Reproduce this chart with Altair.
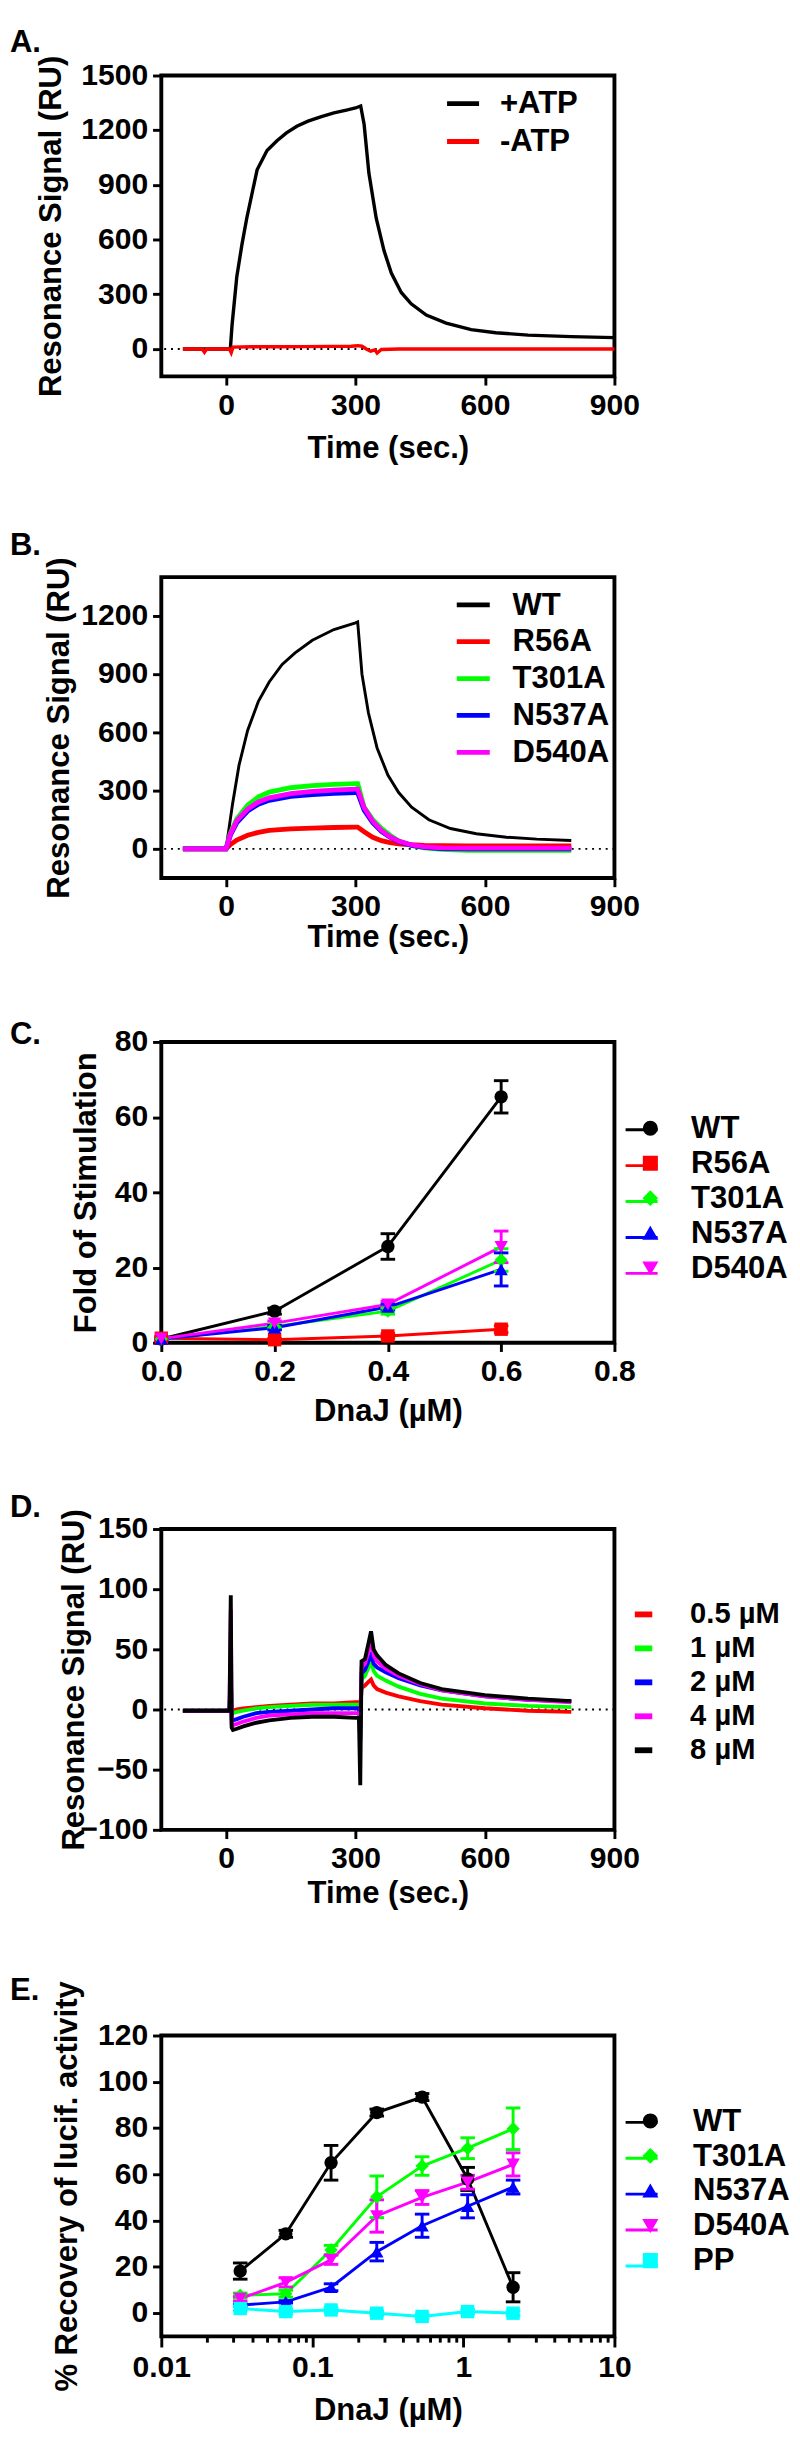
import altair as alt
import pandas as pd

FONT = "Liberation Sans"
W, H = 467, 310

PANEL_LABELS = ["A.", "B.", "C.", "D.", "E."]
LABEL_Y = [-34, -33, -8, -22, -47]

# ---------------- Panel A ----------------
A_SERIES = ["+ATP", "-ATP"]
A_COLORS = ["#000000", "#ff0000"]
A_T_PLUS = [-100, 0, 10, 14, 25, 37, 48, 60, 72, 95, 118, 140, 164, 190, 221, 250, 279,
            300, 312, 320, 331, 348, 366, 383, 406, 429, 464, 510, 568, 625, 700, 800, 900]
A_V_PLUS = [0, 0, 0, 133, 398, 575, 717, 850, 983, 1089, 1142, 1185, 1222, 1250, 1275, 1295, 1310,
            1322, 1333, 1231, 965, 717, 540, 416, 310, 248, 186, 142, 106, 89, 76, 68, 62]
A_T_MINUS = [-100, -55, -50, -45, 0, 8, 12, 16, 60, 120, 180, 240, 290, 305, 315, 325, 335,
             345, 350, 360, 400, 500, 600, 700, 800, 900]
A_V_MINUS = [0, 0, -18, 0, 0, 0, -20, 10, 12, 12, 13, 14, 15, 18, 15, 0, -12,
             -5, -22, -3, 0, 0, 0, 0, 0, 0]

# ---------------- Panel B ----------------
B_SERIES = ["WT", "R56A", "T301A", "N537A", "D540A"]
B_COLORS = ["#000000", "#ff0000", "#00ff00", "#0000ff", "#ff00ff"]
B_T_WT = [-100, 0, 15, 30, 50, 75, 100, 130, 160, 200, 250, 300, 305, 315, 330, 350, 375,
          400, 430, 470, 520, 580, 650, 720, 800]
B_V_WT = [0, 0, 230, 430, 610, 760, 860, 950, 1010, 1075, 1130, 1165, 1170, 900, 700, 520, 380,
          290, 215, 150, 105, 78, 60, 50, 43]
B_T_MUT = [-100, 0, 10, 25, 50, 75, 100, 150, 200, 250, 300, 305, 320, 340, 360, 380, 400,
           430, 460, 500, 560, 650, 800]
B_V_R56A = [0, 0, 22, 45, 70, 85, 95, 103, 107, 110, 112, 112, 88, 60, 42, 32, 26,
            21, 18, 16, 15, 15, 15]
B_V_T301A = [0, 0, 80, 155, 225, 268, 292, 315, 326, 332, 336, 336, 215, 150, 105, 70, 40,
             18, 5, -3, -8, -8, -8]
B_V_N537A = [0, 0, 70, 135, 195, 230, 250, 270, 280, 286, 290, 290, 200, 135, 90, 60, 38,
             18, 8, 2, 0, 0, 0]
B_V_D540A = [0, 0, 75, 145, 205, 242, 263, 285, 296, 303, 308, 308, 212, 142, 95, 63, 40,
             20, 10, 5, 4, 4, 4]

# ---------------- Panel C ----------------
C_SERIES = ["WT", "R56A", "T301A", "N537A", "D540A"]
C_COLORS = ["#000000", "#ff0000", "#00ff00", "#0000ff", "#ff00ff"]
C_SHAPES = ["circle", "square", "diamond", "triangle-up", "triangle-down"]
C_X = [0, 0.2, 0.4, 0.6]
C_WT = [1.0, 8.4, 25.6, 65.4]
C_WT_ERR = [0.5, 0.8, 3.4, 4.3]
C_R56A = [1.2, 0.8, 1.8, 3.6]
C_R56A_ERR = [0.3, 0.3, 0.6, 0.9]
C_T301A = [1.0, 4.3, 8.4, 22.0]
C_T301A_ERR = [0.3, 0.5, 0.8, 3.0]
C_N537A = [1.0, 4.0, 9.5, 19.5]
C_N537A_ERR = [0.3, 0.6, 0.8, 4.4]
C_D540A = [1.1, 5.2, 10.2, 25.5]
C_D540A_ERR = [0.3, 0.6, 0.8, 4.2]

# ---------------- Panel D ----------------
D_SERIES = ["0.5 \u00b5M", "1 \u00b5M", "2 \u00b5M", "4 \u00b5M", "8 \u00b5M"]
D_COLORS = ["#ff0000", "#00ff00", "#0000ff", "#ff00ff", "#000000"]
D_T = [-100, 8, 11, 13, 16, 25, 40, 70, 100, 150, 200, 250, 300, 308, 311, 314, 322, 330,
       336, 342, 350, 370, 400, 450, 500, 600, 700, 800]
D_V_05 = [-1, -1, 10, -1, -1, 0, 1, 2, 3, 4, 5, 5, 6, 6, 0, 18, 20, 23,
          25, 20, 17, 14, 11, 7, 4, 1, -1, -2]
D_V_1 = [-1, -1, 28, -3, -3, -2, -1, 1, 2, 3, 4, 4, 4, 4, -5, 25, 28, 35,
         40, 32, 28, 24, 19, 13, 9, 5, 3, 2]
D_V_2 = [-1, -1, 35, -8, -9, -8, -6, -3, -2, -1, 0, 1, 1, 1, -25, 30, 33, 40,
         45, 38, 35, 31, 26, 20, 16, 11, 8, 7]
D_V_4 = [-1, -1, 83, -12, -13, -12, -10, -7, -5, -4, -3, -3, -3, -3, -15, 35, 38, 48,
         58, 45, 40, 34, 28, 21, 16, 11, 8, 6]
D_V_8 = [-1, -1, 95, -15, -17, -16, -14, -11, -9, -7, -6, -6, -7, -7, -63, 40, 42, 55,
         65, 50, 45, 37, 30, 22, 17, 12, 9, 7]

# ---------------- Panel E ----------------
E_SERIES = ["WT", "T301A", "N537A", "D540A", "PP"]
E_COLORS = ["#000000", "#00ff00", "#0000ff", "#ff00ff", "#00ffff"]
E_SHAPES = ["circle", "diamond", "triangle-up", "triangle-down", "square"]
E_X = [0.0333, 0.0667, 0.133, 0.267, 0.533, 1.067, 2.133]
E_WT = [18.2, 34.3, 65.0, 86.7, 93.4, 58.0, 11.2]
E_WT_ERR = [3.5, 1.5, 7.5, 1.5, 1.5, 5.0, 6.3]
E_T301A = [7.7, 8.4, 27.3, 50.3, 63.6, 71.3, 79.7]
E_T301A_ERR = [1.0, 1.5, 2.0, 9.0, 4.0, 4.5, 9.0]
E_N537A = [3.5, 4.9, 11.2, 26.6, 37.8, 46.2, 54.5]
E_N537A_ERR = [0.5, 0.5, 1.5, 4.0, 5.0, 5.0, 3.0]
E_D540A = [6.3, 13.3, 23.1, 42.0, 50.0, 56.6, 64.3]
E_D540A_ERR = [1.0, 2.0, 2.0, 7.0, 3.0, 3.0, 5.0]
E_PP = [2.0, 0.7, 1.4, 0.0, -1.4, 0.7, 0.0]
E_PP_ERR = [1.0, 1.0, 1.0, 1.0, 1.0, 1.0, 1.0]
E_XTICKS = [0.01, 0.02, 0.03, 0.04, 0.05, 0.06, 0.07, 0.08, 0.09,
            0.1, 0.2, 0.3, 0.4, 0.5, 0.6, 0.7, 0.8, 0.9,
            1, 2, 3, 4, 5, 6, 7, 8, 9, 10]

TIME_TICKS = [0, 300, 600, 900]


def long_df(names, xs_list, ys_list, errs_list=None):
    rows = []
    for i, name in enumerate(names):
        for j, (x, y) in enumerate(zip(xs_list[i], ys_list[i])):
            r = {"series": name, "series2": name + " ", "x": x, "y": y, "i": j}
            if errs_list is not None:
                r["lo"] = y - errs_list[i][j]
                r["hi"] = y + errs_list[i][j]
            rows.append(r)
    return pd.DataFrame(rows)


def panel_label(k):
    return alt.Chart(pd.DataFrame({"t": [PANEL_LABELS[k]]})).mark_text(
        align="left", baseline="middle", fontSize=32, fontWeight="bold", font=FONT, color="black"
    ).encode(text="t:N", x=alt.value(-156), y=alt.value(LABEL_Y[k]))


def zero_rule(yenc):
    return alt.Chart(pd.DataFrame({"y": [0]})).mark_rule(
        color="black", strokeDash=[2, 5], strokeWidth=2
    ).encode(y=yenc)


def line_legend(lx, ly, size, off, rowpad, fs=32, sw=5):
    return alt.Legend(title=None, orient="none", legendX=lx, legendY=ly, symbolType="stroke",
                      symbolSize=size, symbolStrokeWidth=sw, labelOffset=off, rowPadding=rowpad,
                      padding=0, labelFontSize=fs, labelFont=FONT, labelFontWeight="bold",
                      labelColor="black", symbolOpacity=1)


def time_x(title_y):
    return alt.X("x:Q", scale=alt.Scale(domain=[-150, 900], nice=False, zero=False),
                 axis=alt.Axis(values=TIME_TICKS, title="Time (sec.)", titleY=title_y))


# ---------------- build A ----------------
yA = alt.Y("y:Q", scale=alt.Scale(domain=[-150, 1500], nice=False, zero=False),
           axis=alt.Axis(values=[0, 300, 600, 900, 1200, 1500], format="d",
                         title="Resonance Signal (RU)", titleX=-114))
dfA = long_df(A_SERIES, [A_T_PLUS, A_T_MINUS], [A_V_PLUS, A_V_MINUS])
linesA = alt.Chart(dfA).mark_line(strokeWidth=3.5).encode(
    x=time_x(74), y=yA,
    color=alt.Color("series:N", scale=alt.Scale(domain=A_SERIES, range=A_COLORS),
                    legend=line_legend(292, 10, 1089, 19, 4)),
    order="i:Q",
)
pA = alt.layer(zero_rule(yA), linesA, panel_label(0)).properties(width=W, height=H)

# ---------------- build B ----------------
yB = alt.Y("y:Q", scale=alt.Scale(domain=[-150, 1400], nice=False, zero=False),
           axis=alt.Axis(values=[0, 300, 600, 900, 1200], format="d",
                         title="Resonance Signal (RU)", titleX=-106))
dfB = long_df(B_SERIES, [B_T_WT] + [B_T_MUT] * 4,
              [B_V_WT, B_V_R56A, B_V_T301A, B_V_N537A, B_V_D540A])
linesB = alt.Chart(dfB).mark_line().encode(
    x=time_x(61), y=yB,
    color=alt.Color("series:N", scale=alt.Scale(domain=B_SERIES, range=B_COLORS),
                    legend=line_legend(302, 9, 1156, 21, 2)),
    strokeWidth=alt.condition("datum.series === 'WT'", alt.value(3), alt.value(5)),
    order="i:Q",
)
pB = alt.layer(zero_rule(yB), linesB, panel_label(1)).properties(width=W, height=H)


# ---------------- marker panels ----------------
def marker_panel(df, series, colors, shapes, xenc, yenc, lx, ly, off, k):
    # legend of markers + labels (placed freely)
    mleg = alt.Legend(title=None, orient="none", legendX=lx, legendY=ly, symbolSize=196,
                      labelOffset=off, rowPadding=4, padding=0, symbolOpacity=1,
                      labelFontSize=32, labelFont=FONT, labelFontWeight="bold",
                      labelColor="black", zindex=2)
    # legend of line segments behind the markers (right of plot, no labels)
    lleg = alt.Legend(title=" ", titleFontSize=1, titlePadding=ly - 1.5, orient="right",
                      offset=lx - 9.5 - W - 2, symbolType="stroke", symbolSize=1089,
                      symbolStrokeWidth=3, labelOffset=off - 9.5, rowPadding=3, padding=0,
                      labelFontSize=32, labelFont=FONT, labelFontWeight="bold",
                      labelExpr="''", symbolOpacity=1, zindex=1)
    col = alt.Color("series:N", scale=alt.Scale(domain=series, range=colors), legend=mleg)
    base = alt.Chart(df)
    lines = base.mark_line(strokeWidth=3).encode(
        x=xenc, y=yenc, order="i:Q",
        stroke=alt.Stroke("series2:N", scale=alt.Scale(domain=[s + " " for s in series],
                                                       range=colors), legend=lleg),
    )
    xs = alt.X("x:Q")
    bars = base.mark_rule(strokeWidth=3).encode(x=xs, y=alt.Y("lo:Q"), y2="hi:Q", color=col)
    cap_lo = base.mark_tick(orient="horizontal", size=15, thickness=3, opacity=1).encode(
        x=xs, y=alt.Y("lo:Q"), color=col)
    cap_hi = base.mark_tick(orient="horizontal", size=15, thickness=3, opacity=1).encode(
        x=xs, y=alt.Y("hi:Q"), color=col)
    pts = base.mark_point(filled=True, size=190, opacity=1).encode(
        x=xs, y=alt.Y("y:Q"), color=col,
        shape=alt.Shape("series:N", scale=alt.Scale(domain=series, range=shapes), legend=mleg),
    )
    return alt.layer(lines, bars, cap_lo, cap_hi, pts, panel_label(k)).properties(width=W, height=H)


dfC = long_df(C_SERIES, [C_X] * 5, [C_WT, C_R56A, C_T301A, C_N537A, C_D540A],
              [C_WT_ERR, C_R56A_ERR, C_T301A_ERR, C_N537A_ERR, C_D540A_ERR])
pC = marker_panel(
    dfC, C_SERIES, C_COLORS, C_SHAPES,
    alt.X("x:Q", scale=alt.Scale(domain=[0, 0.8], nice=False),
          axis=alt.Axis(values=[0, 0.2, 0.4, 0.6, 0.8], format=".1f",
                        title="DnaJ (\u00b5M)", titleY=70)),
    alt.Y("y:Q", scale=alt.Scale(domain=[0, 80], nice=False),
          axis=alt.Axis(values=[0, 20, 40, 60, 80], title="Fold of Stimulation", titleX=-78)),
    488, 73, 26, 2)

# ---------------- build D ----------------
yD = alt.Y("y:Q", scale=alt.Scale(domain=[-100, 150], nice=False, zero=False),
           axis=alt.Axis(values=[-100, -50, 0, 50, 100, 150], format="d",
                         title="Resonance Signal (RU)", titleX=-90))
dfD = long_df(D_SERIES, [D_T] * 5, [D_V_05, D_V_1, D_V_2, D_V_4, D_V_8])
linesD = alt.Chart(dfD).mark_line(strokeWidth=4).encode(
    x=time_x(65), y=yD,
    color=alt.Color("series:N", scale=alt.Scale(domain=D_SERIES, range=D_COLORS),
                    legend=line_legend(482, 73, 324, 33, 5, fs=30, sw=6)),
    order="i:Q",
)
pD = alt.layer(zero_rule(yD), linesD, panel_label(3)).properties(width=W, height=H)

# ---------------- build E ----------------
DECADE = "abs(log(datum.value)/LN10 - round(log(datum.value)/LN10)) < 0.001"
dfE = long_df(E_SERIES, [E_X] * 5, [E_WT, E_T301A, E_N537A, E_D540A, E_PP],
              [E_WT_ERR, E_T301A_ERR, E_N537A_ERR, E_D540A_ERR, E_PP_ERR])
pE = marker_panel(
    dfE, E_SERIES, E_COLORS, E_SHAPES,
    alt.X("x:Q", scale=alt.Scale(type="log", domain=[0.01, 10], nice=False),
          axis=alt.Axis(values=E_XTICKS, format="~g",
                        labelExpr=DECADE + " ? datum.label : ''",
                        tickSize={"condition": {"test": DECADE, "value": 11}, "value": 6},
                        title="DnaJ (\u00b5M)", titleY=76)),
    alt.Y("y:Q", scale=alt.Scale(domain=[-10, 120], nice=False, zero=False),
          axis=alt.Axis(values=[0, 20, 40, 60, 80, 100, 120],
                        title="% Recovery of lucif. activity", titleX=-97)),
    488, 72, 28, 4)

chart = alt.vconcat(pA, pB, pC, pD, pE, spacing=64).resolve_scale(
    color="independent", shape="independent", stroke="independent"
).resolve_legend(color="independent", shape="independent", stroke="independent").properties(
    padding={"left": 0, "top": -20, "right": 0, "bottom": 0}
).configure(
    background="white", font=FONT
).configure_view(
    stroke="black", strokeWidth=4
).configure_axis(
    labelFont=FONT, labelFontSize=31, labelFontWeight="bold", labelColor="black",
    titleFont=FONT, titleFontSize=32, titleFontWeight="bold", titleColor="black",
    tickColor="black", tickWidth=3, tickSize=9, domain=False, grid=False,
    labelFlush=False, labelOverlap=False, titleBaseline="middle",
).configure_axisY(labelPadding=5).configure_axisX(labelPadding=6)

chart.save("out.html", embed_options={"renderer": "svg", "actions": False})
